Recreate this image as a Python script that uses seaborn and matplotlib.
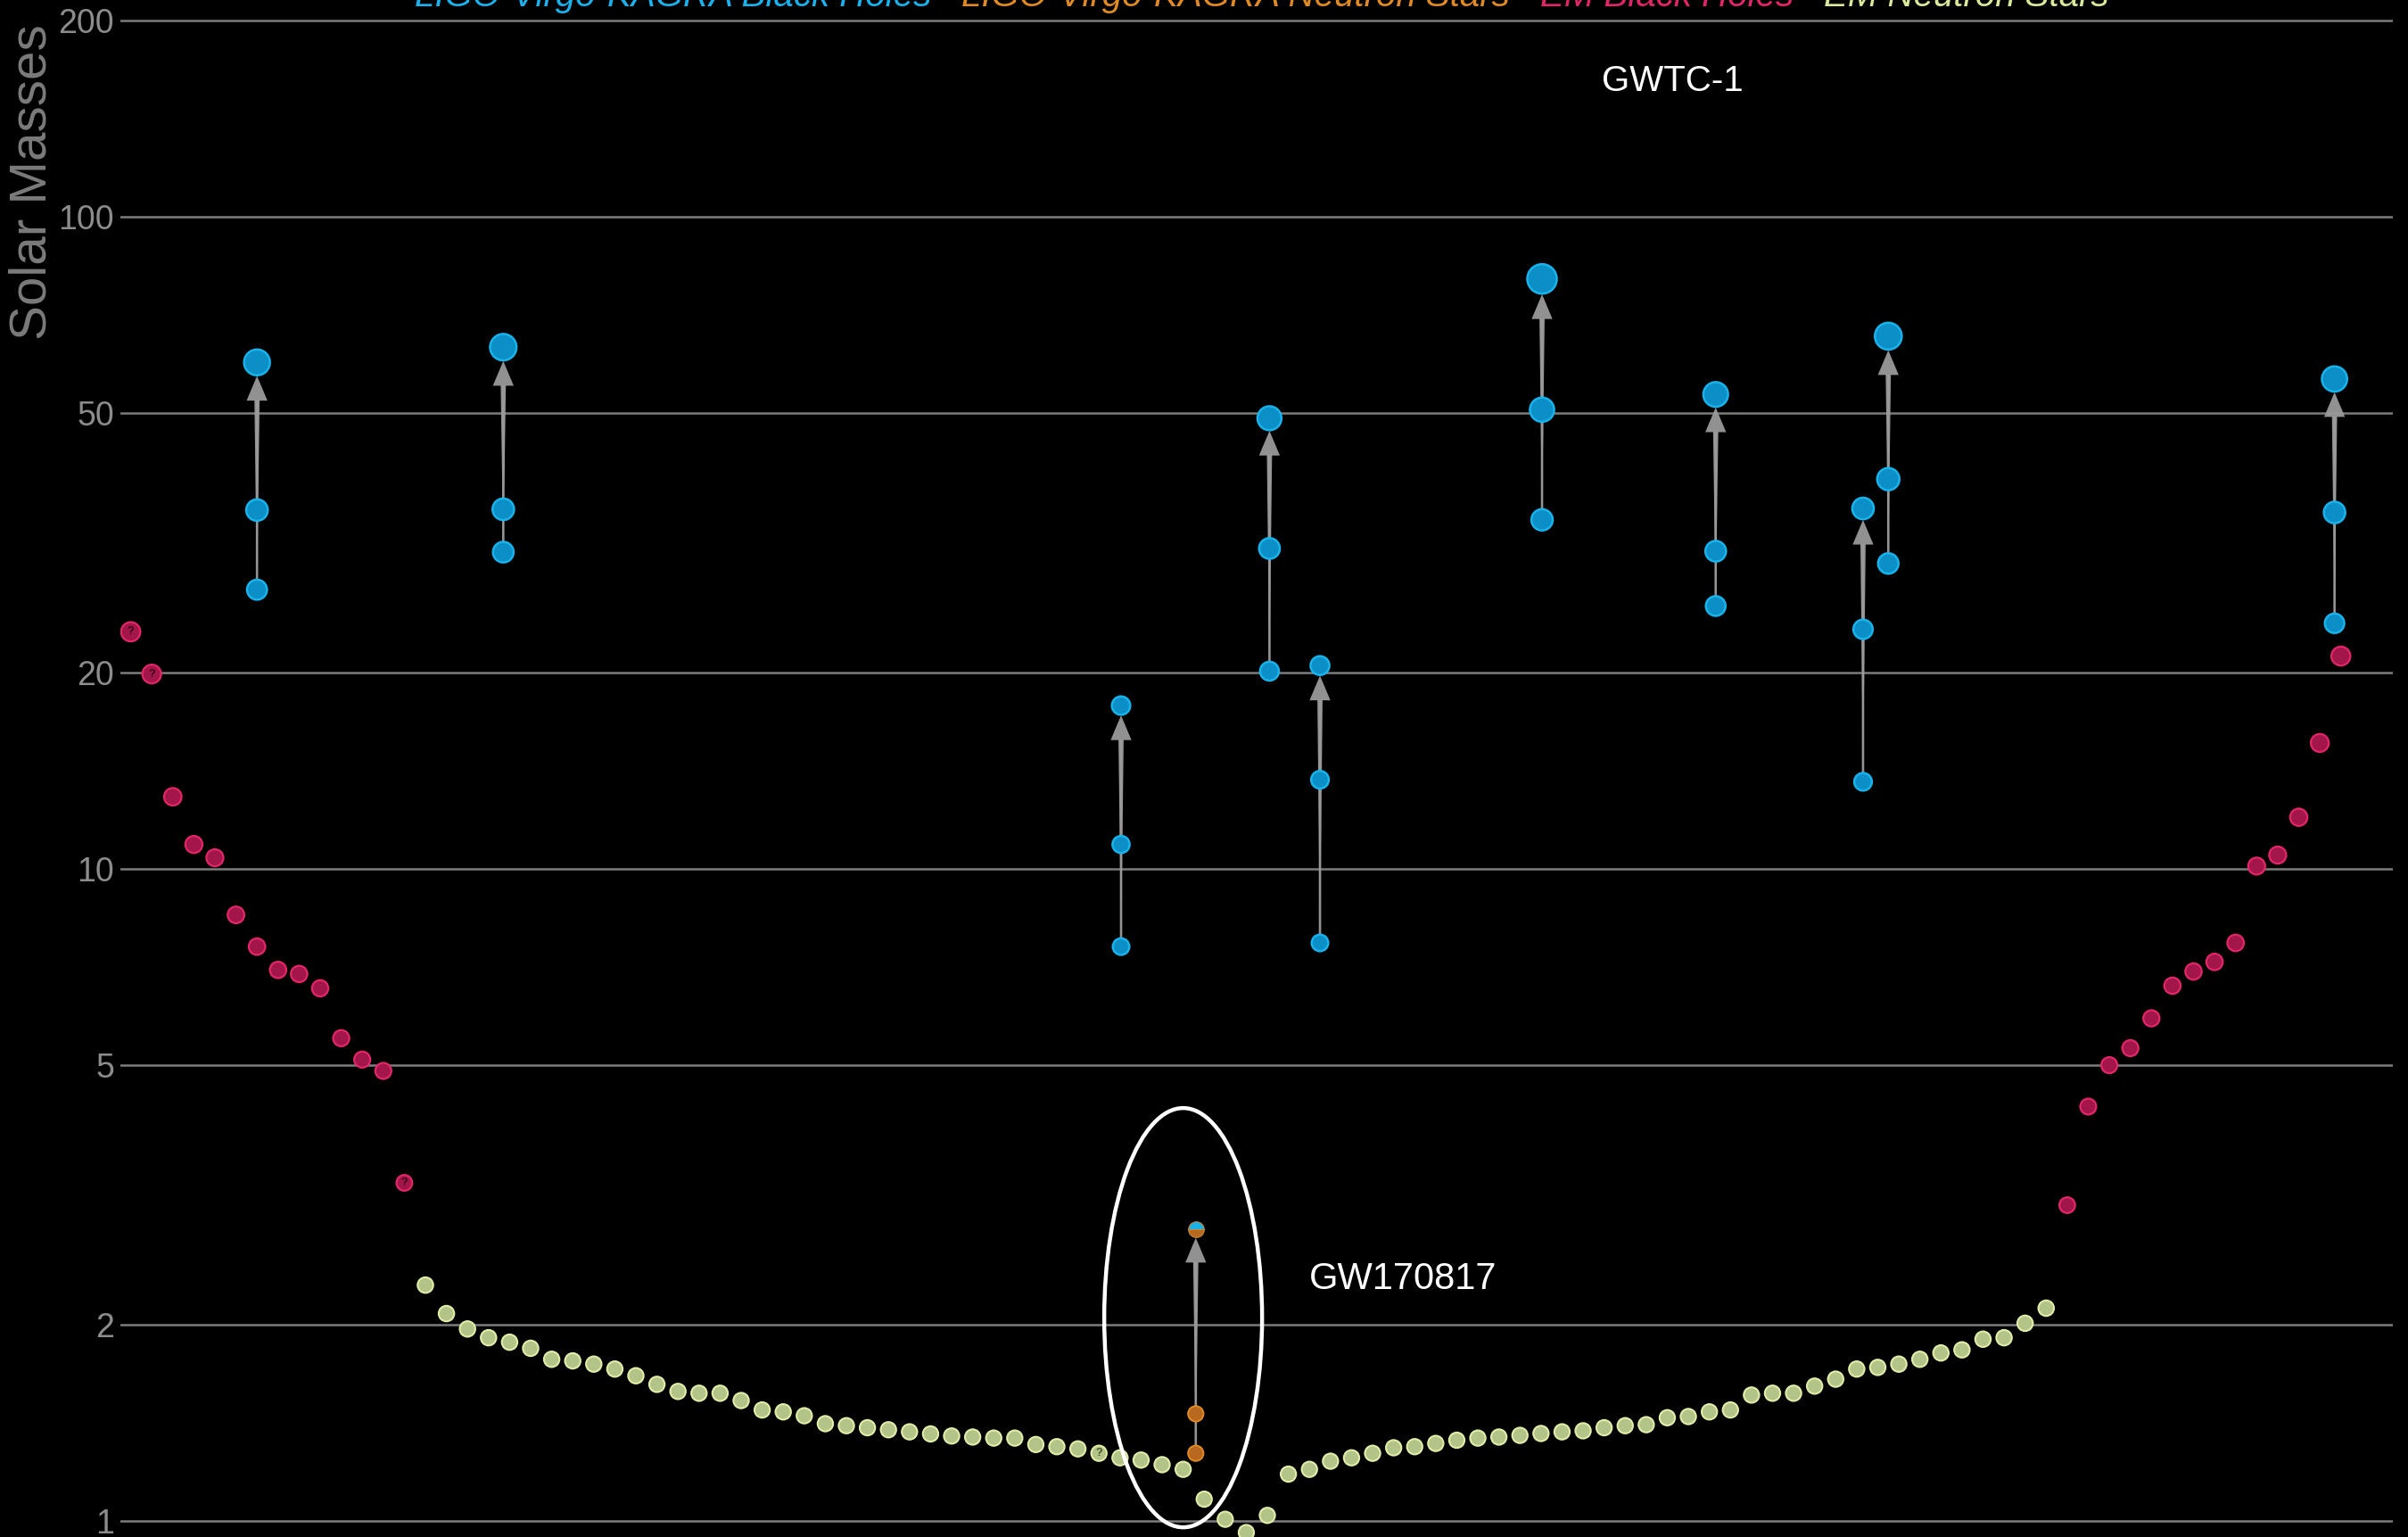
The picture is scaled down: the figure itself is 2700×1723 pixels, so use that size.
import matplotlib
matplotlib.use("Agg")
import matplotlib.pyplot as plt
import numpy as np
import pandas as pd
import seaborn as sns
from matplotlib.patches import Ellipse
from matplotlib.ticker import NullLocator

# ---------------------------------------------------------------- data
# Electromagnetically observed black holes (sorted, left and right wings)
em_bh_mass = [23.1, 19.9, 12.9, 10.9, 10.4, 8.5, 7.6, 7.0, 6.9, 6.56, 5.5, 5.1, 4.9, 3.3,
              3.05, 4.32, 5.0, 5.31, 5.90, 6.62, 6.96, 7.20, 7.70, 10.1, 10.5, 12.0, 15.6, 21.2]
em_bh_uncertain = [0, 1, 13]

# Electromagnetically observed neutron stars
em_ns_mass = [2.30, 2.08, 1.97, 1.91, 1.88, 1.84, 1.77, 1.76, 1.74, 1.71, 1.67, 1.62, 1.58,
              1.57, 1.57, 1.53, 1.48, 1.47, 1.45, 1.41, 1.40, 1.39, 1.38, 1.37, 1.36, 1.35,
              1.345, 1.34, 1.34, 1.31, 1.30, 1.29, 1.27, 1.25, 1.24, 1.22, 1.20,
              1.08, 1.006, 0.96, 1.02, 1.18, 1.20, 1.235, 1.25, 1.27, 1.295, 1.30, 1.315,
              1.33, 1.34, 1.345, 1.353, 1.362, 1.37, 1.375, 1.39, 1.40, 1.405, 1.44, 1.446,
              1.47, 1.48, 1.56, 1.57, 1.57, 1.61, 1.65, 1.71, 1.72, 1.74, 1.77, 1.81, 1.83,
              1.90, 1.91, 2.01, 2.12]
em_ns_uncertain = [32]

# GWTC-1 compact binary mergers: component masses and remnant mass
gw_names = ["GW170818", "GW150914", "GW170608", "GW170817", "GW170104", "GW151226",
            "GW170729", "GW170814", "GW151012", "GW170823", "GW170809"]
gw_pos = [6.0, 17.7, 47.05, 50.6, 54.1, 56.5, 67.05, 75.3, 82.3, 83.5, 104.7]
gw_m1 = [35.5, 35.6, 10.9, 1.46, 31.0, 13.7, 50.6, 30.7, 23.3, 39.6, 35.2]
gw_m2 = [26.8, 30.6, 7.6, 1.27, 20.1, 7.7, 34.3, 25.3, 13.6, 29.4, 23.8]
gw_mf = [59.8, 63.1, 17.8, 2.8, 49.1, 20.5, 80.3, 53.4, 35.7, 65.6, 56.4]
bns_event = "GW170817"

legend_labels = ["LIGO-Virgo-KAGRA Black Holes", "LIGO-Virgo-KAGRA Neutron Stars",
                 "EM Black Holes", "EM Neutron Stars"]
ytick_values = [1, 2, 5, 10, 20, 50, 100, 200]

# ---------------------------------------------------------------- style
BLUE_FACE, BLUE_EDGE = "#0b8fc6", "#19b3ec"
ORANGE_FACE, ORANGE_EDGE = "#b9691f", "#e08a27"
PINK_FACE, PINK_EDGE = "#a3164a", "#e3256a"
YELLOW_FACE, YELLOW_EDGE = "#b3c488", "#e2eca9"
LEGEND_COLORS = ["#1ab2ec", "#e08a25", "#e2256a", "#d8e99c"]
ARROW_COLOR = "#9a9a9a"
HEAD_SCALE = 21          # arrow mutation scale (points)
HEAD_LENGTH = 0.95       # in units of HEAD_SCALE


def marker_diameter_pt(mass):
    """Marker diameter (points) grows gently with the object's mass."""
    return (17.0 + 0.2 * np.asarray(mass, dtype=float)) * 0.72


def marker_area(mass):
    return marker_diameter_pt(mass) ** 2


sns.set_theme(style="dark", rc={"axes.facecolor": "black", "figure.facecolor": "black",
                                 "savefig.facecolor": "black"})
plt.rcParams["font.family"] = ["Liberation Sans", "DejaVu Sans"]

W, H = 2700, 1723
fig = plt.figure(figsize=(W / 100, H / 100), dpi=100)
ax = fig.add_axes([135 / W, 0, 2548 / W, 1])
ax.set_facecolor("black")
ax.set_yscale("log")
ax.set_xlim(-0.49, 107.47)
ax.set_ylim(0.945, 215)

# EM sample positions: black holes on both wings, neutron stars in between
n_bh_half = len(em_bh_mass) // 2
bh_x = list(range(n_bh_half)) + list(range(n_bh_half + len(em_ns_mass),
                                            2 * n_bh_half + len(em_ns_mass)))
ns_x = list(range(n_bh_half, n_bh_half + len(em_ns_mass)))

em_bh = pd.DataFrame({"x": bh_x, "mass": em_bh_mass})
em_ns = pd.DataFrame({"x": ns_x, "mass": em_ns_mass})
gw = pd.DataFrame({"name": gw_names, "x": gw_pos, "m1": gw_m1, "m2": gw_m2, "mf": gw_mf})
bbh = gw[gw["name"] != bns_event]
bns = gw[gw["name"] == bns_event]

# merger arrows: from lighter component up to the remnant, shaft widening upwards
for _, r in gw.iterrows():
    radius = float(marker_diameter_pt(r["mf"])) / 2
    ax.annotate("", xy=(r["x"], r["mf"]), xytext=(r["x"], r["m2"]),
                arrowprops=dict(arrowstyle=f"simple,head_length={HEAD_LENGTH},head_width=0.8,tail_width=0.09",
                                color=ARROW_COLOR, alpha=0.95, lw=0,
                                shrinkA=0, shrinkB=radius + 0.5,
                                mutation_scale=HEAD_SCALE),
                zorder=2)
    ax.annotate("", xy=(r["x"], r["m2"]), xytext=(r["x"], r["mf"]),
                arrowprops=dict(arrowstyle="wedge,tail_width=0.2,shrink_factor=0.5",
                                color=ARROW_COLOR, alpha=0.95, lw=0,
                                shrinkA=radius + HEAD_LENGTH * HEAD_SCALE, shrinkB=0,
                                mutation_scale=HEAD_SCALE),
                zorder=2)

# EM populations
sns.scatterplot(data=em_bh, x="x", y="mass", ax=ax, color=PINK_FACE, edgecolor=PINK_EDGE,
                linewidth=1.6, s=marker_area(em_bh["mass"]), zorder=3, legend=False)
sns.scatterplot(data=em_ns, x="x", y="mass", ax=ax, color=YELLOW_FACE, edgecolor=YELLOW_EDGE,
                linewidth=1.5, s=marker_area(em_ns["mass"]), zorder=3, legend=False)

# binary black holes: components and remnants
comp = pd.DataFrame({"x": np.concatenate([bbh["x"], bbh["x"], bbh["x"]]),
                     "mass": np.concatenate([bbh["m1"], bbh["m2"], bbh["mf"]])})
sns.scatterplot(data=comp, x="x", y="mass", ax=ax, color=BLUE_FACE, edgecolor=BLUE_EDGE,
                linewidth=1.8, s=marker_area(comp["mass"]), zorder=4, legend=False)

# binary neutron star merger
bns_comp = pd.DataFrame({"x": np.concatenate([bns["x"], bns["x"]]),
                         "mass": np.concatenate([bns["m1"], bns["m2"]])})
sns.scatterplot(data=bns_comp, x="x", y="mass", ax=ax, color=ORANGE_FACE, edgecolor=ORANGE_EDGE,
                linewidth=1.4, s=marker_area(bns_comp["mass"]), zorder=4, legend=False)
ax.plot(bns["x"], bns["mf"], marker="o", ms=float(marker_diameter_pt(bns["mf"].iloc[0])),
        ls="none", fillstyle="top",
        markerfacecolor=BLUE_EDGE, markerfacecoloralt=ORANGE_FACE,
        markeredgecolor="#c98a3a", markeredgewidth=0.8, zorder=5)

# uncertain-mass flags
for i in em_bh_uncertain:
    ax.text(bh_x[i], em_bh_mass[i], "?", ha="center", va="center", fontsize=9,
            fontweight="bold", color="#3a0616", zorder=6)
for i in em_ns_uncertain:
    ax.text(ns_x[i], em_ns_mass[i], "?", ha="center", va="center", fontsize=9,
            fontweight="bold", color="#4b5530", zorder=6)

# axes cosmetics
ax.set_xlabel("")
ax.set_ylabel("")
ax.set_xticks([])
ax.set_yticks(ytick_values)
ax.set_yticklabels([str(v) for v in ytick_values])
ax.yaxis.set_minor_locator(NullLocator())
ax.tick_params(axis="y", length=0, pad=5, labelsize=27, labelcolor="#8c8c8c")
ax.grid(axis="y", color="#7c7c7c", lw=1.8)
ax.grid(axis="x", visible=False)
ax.set_axisbelow(True)
for sp in ax.spines.values():
    sp.set_visible(False)

# annotations
ax.text(69.9, 161.4, "GWTC-1", ha="left", va="center", fontsize=29, color="white")
ax.text(56.0, 2.35, bns_event, ha="left", va="center", fontsize=30, color="white")

cx, cy = ax.transAxes.inverted().transform(ax.transData.transform((50.0, 2.05)))
ax.add_patch(Ellipse((cx, cy), width=177 / 2548, height=470 / H, transform=ax.transAxes,
                     fill=False, edgecolor="white", lw=3.2, zorder=6, clip_on=False))

fig.text(37 / W, 1 - 204 / H, "Solar Masses", rotation=90, ha="center", va="center",
         fontsize=42, color="#7b7b7b")

# colour-coded key along the top edge
renderer = fig.canvas.get_renderer()
x0 = 465
for label, col in zip(legend_labels, LEGEND_COLORS):
    t = fig.text(x0 / W, 1 - 7 / H, label, ha="left", va="baseline", fontsize=29,
                 style="italic", color=col)
    x0 = t.get_window_extent(renderer).x1 + 34

fig.savefig("out.png", dpi=100, facecolor="black")
